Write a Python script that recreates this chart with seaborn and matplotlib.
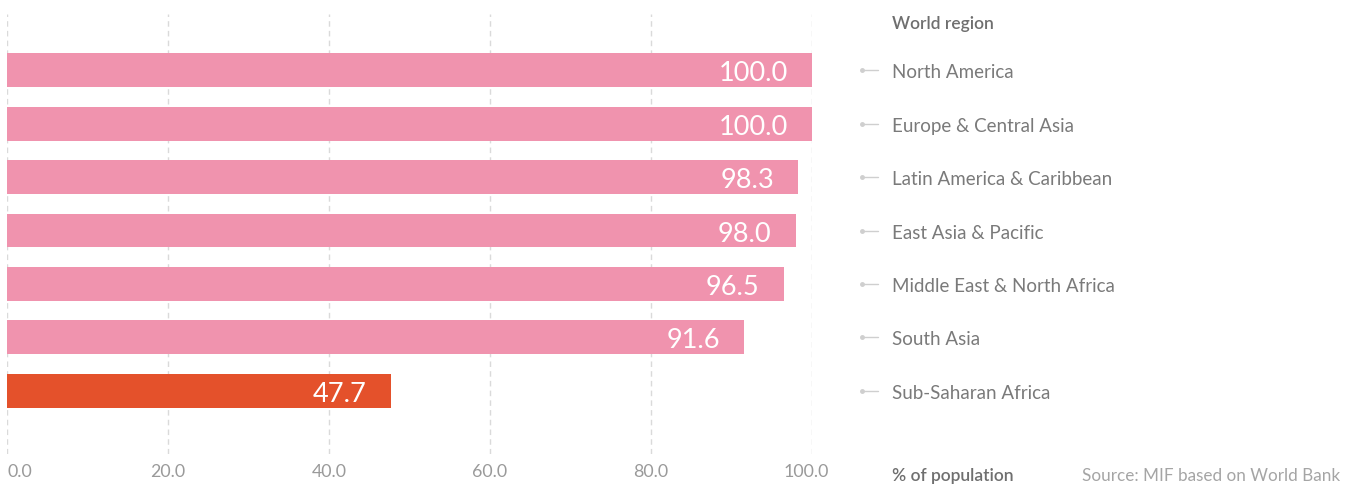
import matplotlib
matplotlib.use("Agg")
import matplotlib.pyplot as plt
import matplotlib.transforms as mtransforms
import seaborn as sns
import pandas as pd

regions = [
    "North America",
    "Europe & Central Asia",
    "Latin America & Caribbean",
    "East Asia & Pacific",
    "Middle East & North Africa",
    "South Asia",
    "Sub-Saharan Africa",
]
values = [100.0, 100.0, 98.3, 98.0, 96.5, 91.6, 47.7]
highlight = [False, False, False, False, False, False, True]
x_ticks = [0, 20, 40, 60, 80, 100]
x_tick_labels = ["0.0", "20.0", "40.0", "60.0", "80.0", "100.0"]

PINK = "#F093AE"
ORANGE = "#E4512B"
GRID = "#DADADA"
LABEL = "#7A7A7A"
TICK = "#9A9A9A"

df = pd.DataFrame({"region": regions, "value": values,
                   "group": ["focus" if h else "other" for h in highlight]})

sns.set_theme(style="white")
plt.rcParams["font.family"] = ["Lato", "DejaVu Sans"]

W, H = 1353, 485
fig = plt.figure(figsize=(W / 100, H / 100), dpi=100)
ax = fig.add_axes([7 / W, 1 - 455 / H, (812 - 7) / W, (455 - 15) / H])

sns.barplot(data=df, x="value", y="region", hue="group", orient="h",
            palette={"other": PINK, "focus": ORANGE}, order=regions,
            width=0.635, dodge=False, legend=False, ax=ax, zorder=3,
            linewidth=0, saturation=1)

ax.set_xlim(0, 100)
ax.set_ylim(7.18, -1.05)
ax.set_xlabel("")
ax.set_ylabel("")
ax.set_yticks([])
for s in ax.spines.values():
    s.set_visible(False)

# dashed vertical gridlines
ax.set_xticks(x_ticks)
ax.xaxis.grid(True, linestyle=(0, (4, 3)), color=GRID, linewidth=1)
ax.set_axisbelow(True)
ax.tick_params(axis="x", length=0, pad=11, labelsize=12.8, labelcolor=TICK)
ax.set_xticklabels(x_tick_labels)
xl = ax.get_xticklabels()
xl[0].set_horizontalalignment("left")
xl[-1].set_transform(xl[-1].get_transform() +
                     mtransforms.ScaledTranslation(-6 / 100, 0, fig.dpi_scale_trans))
for t in xl:
    t.set_verticalalignment("center_baseline")

# value labels inside bars
for i, v in enumerate(values):
    ax.text(v - 3.0, i, f"{v:.1f}", ha="right", va="center_baseline",
            color="white", fontsize=19.5, zorder=4)

# region labels with connector marks on the right
px = lambda p: (p - 7) / 8.05
for i, r in enumerate(regions):
    ax.plot([px(862), px(878)], [i, i], color="#CFCFCF", lw=1, clip_on=False)
    ax.plot([px(862)], [i], marker="o", ms=2.5, color="#CFCFCF", clip_on=False)
    ax.text(px(892), i, r, ha="left", va="center_baseline", color=LABEL,
            fontsize=13.5, clip_on=False)

fig.text(892 / W, 1 - 22 / H, "World region", ha="left", va="center_baseline",
         color="#6F6F6F", fontsize=12.5, fontweight="semibold")
fig.text(892 / W, 1 - 475 / H, "% of population", ha="left", va="center_baseline",
         color="#6F6F6F", fontsize=12.5, fontweight="semibold")
fig.text(1082 / W, 1 - 475 / H, "Source: MIF based on World Bank", ha="left",
         va="center_baseline", color="#A5A5A5", fontsize=12.3)

fig.savefig("out.png", dpi=100, facecolor="white")
